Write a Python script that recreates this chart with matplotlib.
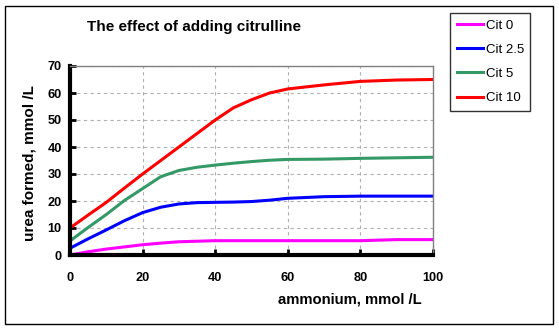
import matplotlib.pyplot as plt
from matplotlib.patches import Rectangle

ammonium = [0, 5, 10, 15, 20, 25, 30, 35, 40, 45, 50, 55, 60, 70, 80, 90, 100]
cit0 = [0.0, 1.2, 2.2, 3.0, 3.8, 4.4, 4.9, 5.1, 5.3, 5.3, 5.3, 5.3, 5.3, 5.3, 5.3, 5.7, 5.7]
cit2_5 = [2.5, 6.0, 9.3, 12.7, 15.7, 17.7, 18.9, 19.4, 19.5, 19.6, 19.8, 20.3, 21.0, 21.6, 21.8, 21.8, 21.8]
cit5 = [5.2, 10.2, 15.0, 20.2, 24.6, 29.0, 31.3, 32.5, 33.3, 34.0, 34.6, 35.1, 35.4, 35.5, 35.8, 36.0, 36.2]
cit10 = [10.0, 14.8, 19.5, 24.8, 30.0, 35.0, 40.0, 45.0, 50.0, 54.5, 57.5, 60.0, 61.5, 63.0, 64.3, 64.8, 65.0]

series = [("Cit 0", cit0, "#ff00ff"),
          ("Cit 2.5", cit2_5, "#0000ff"),
          ("Cit 5", cit5, "#339966"),
          ("Cit 10", cit10, "#ff0000")]

plt.rcParams['font.family'] = ['Liberation Sans', 'DejaVu Sans']

fig = plt.figure(figsize=(5.59, 3.30), dpi=100)
fig.patches.append(Rectangle((5 / 559, 6 / 330), 548 / 559, 318 / 330, transform=fig.transFigure,
                             fill=False, edgecolor='black', linewidth=1.0))
ax = fig.add_axes([70 / 559, 75 / 330, 363 / 559, 189 / 330])

lines = []
for name, vals, col in series:
    ln, = ax.plot(ammonium, vals, color=col, linewidth=2.2, label=name)
    lines.append(ln)

ax.set_xlim(0, 100)
ax.set_ylim(0, 70)
ax.set_xticks(range(0, 101, 20))
ax.set_yticks(range(0, 71, 10))
ax.grid(True, linestyle=(0, (3, 3)), color='#b0b0b0', linewidth=0.8)
for s in ['top', 'right']:
    ax.spines[s].set_color('#808080')
    ax.spines[s].set_linewidth(1.0)
for s in ['left', 'bottom']:
    ax.spines[s].set_color('black')
    ax.spines[s].set_linewidth(3.0)
ax.tick_params(direction='in', length=4, width=2, color='black', labelsize=9.2, pad=6)
for lab in ax.get_xticklabels() + ax.get_yticklabels():
    lab.set_fontweight('bold')
ax.tick_params(axis='x', pad=12)

fig.text(30 / 559, 1 - 163 / 330, "urea formed, mmol /L", fontsize=11, fontweight='bold',
         rotation=90, ha='center', va='center')
fig.text(350 / 559, 30 / 330, "ammonium, mmol /L", fontsize=10.7, fontweight='bold',
         ha='center', va='center')
fig.text(194 / 559, 1 - 27 / 330, "The effect of adding citrulline", fontsize=11,
         fontweight='bold', ha='center', va='center')

leg = fig.legend(handles=lines, loc='upper left', bbox_to_anchor=(450 / 559, 1 - 13 / 330),
                 frameon=True, fancybox=False, edgecolor='black', fontsize=9.5,
                 handlelength=2.0, handletextpad=0.2, labelspacing=0.9,
                 borderpad=0.5, borderaxespad=0)
leg.get_frame().set_linewidth(1.0)

fig.savefig("out.png", dpi=100)
